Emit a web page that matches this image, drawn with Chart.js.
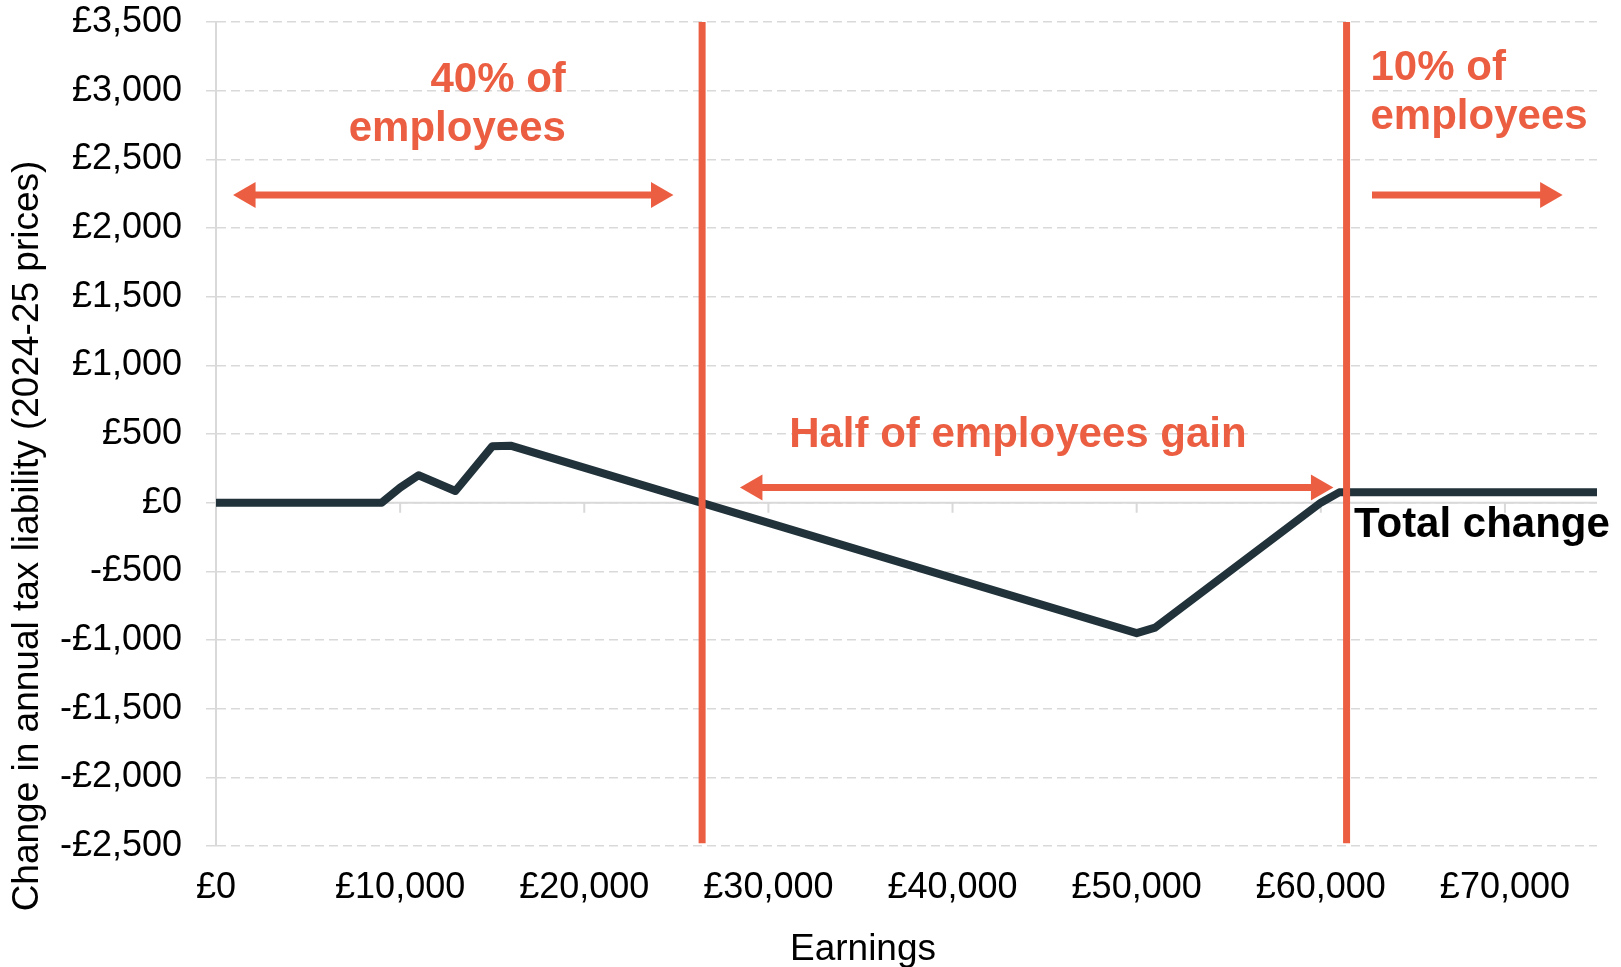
<!DOCTYPE html>
<html>
<head>
<meta charset="utf-8">
<script src="https://cdn.jsdelivr.net/npm/chart.js@4.4.1/dist/chart.umd.min.js"></script>
<style>
    html, body { margin: 0; padding: 0; background: #ffffff; }
    #wrap { width: 1621px; height: 967px; }
</style>
</head>
<body>
<div id="wrap"><canvas id="taxChart" width="1621" height="967"></canvas></div>
<script>
// earnings (£) against change in annual tax liability (£, 2024-25 prices)
const earnings  = [0, 9000, 10000, 11000, 13000, 15000, 16000, 50000, 51000, 60000, 61000, 75000];
const taxChange = [0, 0, 110, 200, 85, 410, 415, -950, -910, 0, 75, 75];

// earnings thresholds shown as vertical lines
const thresholds = [26400, 61400];
const thresholdSpan = [3500, -2480];

// arrows: start / end earnings, level, heads at [start, end]
const arrowStart = [1740, 29270, 62780];
const arrowEnd   = [24030, 59870, 72320];
const arrowLevel = [2240, 110, 2240];
const arrowHeads = [[true, true], [true, true], [false, true]];

// axis ranges and tick values
const yRange = [-2500, 3500, 500];
const xRange = [0, 75000];
const xTickValues = [0, 10000, 20000, 30000, 40000, 50000, 60000, 70000];

const RED = '#ec5e42';
const DARK = '#21323a';
const GRID = '#d9d9d9';
const FONT = "'Liberation Sans', Arial, Helvetica, sans-serif";

// annotation text, anchored in data units
const notes = [
    { text: ['40% of', 'employees'], x: 19000, y: 2990, align: 'right', color: RED, size: 42 },
    { text: ['10% of', 'employees'], x: 62700, y: 3075, align: 'left', color: RED, size: 42 },
    { text: ['Half of employees gain'], x: 43550, y: 405, align: 'center', color: RED, size: 42 },
    { text: ['Total change'], x: 61800, y: -250, align: 'left', color: '#000000', size: 42 },
];

function money(v) {
    const s = String(Math.abs(v)).replace(/\B(?=(\d{3})+(?!\d))/g, ',');
    return (v < 0 ? '-£' : '£') + s;
}

// solid x axis along zero, with tick marks pointing down
const zeroAxis = {
    id: 'zeroAxis',
    beforeDatasetsDraw(chart) {
        const { ctx, chartArea, scales } = chart;
        const y0 = scales.y.getPixelForValue(0);
        ctx.save();
        ctx.strokeStyle = GRID;
        ctx.lineWidth = 2;
        ctx.beginPath();
        ctx.moveTo(chartArea.left, y0);
        ctx.lineTo(chartArea.right, y0);
        scales.x.ticks.forEach((t) => {
            const px = scales.x.getPixelForValue(t.value);
            ctx.moveTo(px, y0);
            ctx.lineTo(px, y0 + 10);
        });
        ctx.stroke();
        ctx.restore();
    },
};

// annotations and axis titles
const labels = {
    id: 'labels',
    afterDatasetsDraw(chart) {
        const { ctx, scales } = chart;
        ctx.save();
        notes.forEach((n) => {
            const px = scales.x.getPixelForValue(n.x);
            const py = scales.y.getPixelForValue(n.y);
            ctx.font = `bold ${n.size}px ${FONT}`;
            ctx.fillStyle = n.color;
            ctx.textAlign = n.align;
            ctx.textBaseline = 'alphabetic';
            n.text.forEach((line, i) => ctx.fillText(line, px, py + i * 49));
        });

        ctx.fillStyle = '#000000';
        ctx.font = `37px ${FONT}`;
        ctx.textAlign = 'center';
        ctx.textBaseline = 'alphabetic';
        ctx.fillText('Earnings', 863, 960);

        ctx.translate(38, 536);
        ctx.rotate(-Math.PI / 2);
        ctx.fillText('Change in annual tax liability (2024-25 prices)', 0, 0);
        ctx.restore();
    },
};

const datasets = [
    {
        data: earnings.map((x, i) => ({ x, y: taxChange[i] })),
        borderColor: DARK,
        borderWidth: 8,
        borderJoinStyle: 'round',
        pointRadius: 0,
        tension: 0,
        order: 3,
    },
];

thresholds.forEach((x) => {
    datasets.push({
        data: thresholdSpan.map((y) => ({ x, y })),
        borderColor: RED,
        borderWidth: 7,
        pointRadius: 0,
        order: 2,
    });
});

arrowStart.forEach((x0, i) => {
    datasets.push({
        data: [{ x: x0, y: arrowLevel[i] }, { x: arrowEnd[i], y: arrowLevel[i] }],
        borderColor: RED,
        borderWidth: 7,
        pointStyle: 'triangle',
        pointRadius: arrowHeads[i].map((h) => (h ? 15 : 0)),
        pointRotation: [-90, 90],
        pointBackgroundColor: RED,
        pointBorderWidth: 0,
        order: 1,
    });
});

new Chart(document.getElementById('taxChart'), {
    type: 'line',
    data: { datasets },
    options: {
        responsive: false,
        animation: false,
        devicePixelRatio: 1,
        layout: { padding: { top: 22, right: 24, left: 0, bottom: 0 } },
        plugins: {
            legend: { display: false },
            tooltip: { enabled: false },
        },
        scales: {
            x: {
                type: 'linear',
                min: xRange[0],
                max: xRange[1],
                afterBuildTicks: (s) => { s.ticks = xTickValues.map((value) => ({ value })); },
                afterFit: (s) => {
                    s.height = 121;
                    s.paddingLeft = 0;
                    s.paddingRight = 0;
                },
                grid: { display: false, drawTicks: false },
                border: { display: false },
                ticks: {
                    autoSkip: false,
                    maxRotation: 0,
                    padding: 20,
                    color: '#000000',
                    font: { family: FONT, size: 36 },
                    callback: (v) => money(v),
                },
            },
            y: {
                min: yRange[0],
                max: yRange[1],
                afterFit: (s) => {
                    s.width = 216;
                    s.paddingTop = 0;
                    s.paddingBottom = 0;
                },
                grid: {
                    color: GRID,
                    lineWidth: 1.5,
                    drawTicks: true,
                    tickLength: 10,
                    tickBorderDash: [],
                },
                border: { display: true, color: GRID, width: 2, dash: [9, 5] },
                ticks: {
                    stepSize: yRange[2],
                    padding: 24,
                    color: '#000000',
                    font: { family: FONT, size: 36 },
                    callback: (v) => money(v),
                },
            },
        },
    },
    plugins: [zeroAxis, labels],
});
</script>
</body>
</html>
